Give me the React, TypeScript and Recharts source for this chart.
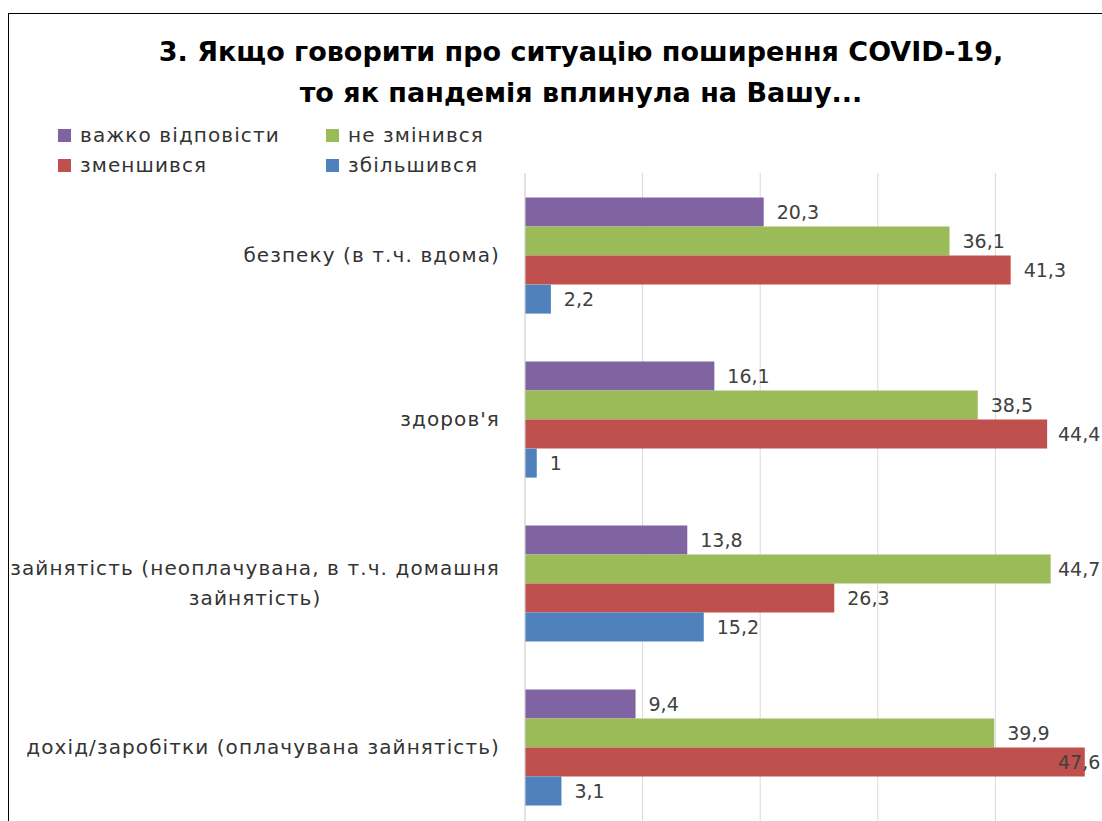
import { BarChart, Bar, XAxis, YAxis, CartesianGrid, LabelList } from 'recharts'

const categories = [
  'безпеку (в т.ч. вдома)',
  "здоров'я",
  'зайнятість (неоплачувана, в т.ч. домашня зайнятість)',
  'дохід/заробітки (оплачувана зайнятість)',
]
const seriesNames = ['важко відповісти', 'не змінився', 'зменшився', 'збільшився']
const seriesColors = ['#8064A2', '#9BBB59', '#C0504D', '#4F81BD']
const hardToSay = [20.3, 16.1, 13.8, 9.4]
const unchanged = [36.1, 38.5, 44.7, 39.9]
const decreased = [41.3, 44.4, 26.3, 47.6]
const increased = [2.2, 1, 15.2, 3.1]
const xTicks = [0, 10, 20, 30, 40, 50]
const titleLines = ['3. Якщо говорити про ситуацію поширення COVID-19,', 'то як пандемія вплинула на Вашу...']

const FONT = '"DejaVu Sans", Verdana, sans-serif'
const TEXT_FONT = 20
const TEXT_SPACING = 1.1
const LABEL_FONT = 19
const LABEL_MAX_X = 1049 // Excel pushes labels back inside the chart area

const seriesKeys = ['s0', 's1', 's2', 's3']
const seriesValues = [hardToSay, unchanged, decreased, increased]

const data = categories.map((category, i) => {
  const row: Record<string, string | number> = { category }
  seriesKeys.forEach((k, j) => (row[k] = seriesValues[j][i]))
  return row
})

let ctx: CanvasRenderingContext2D | null = null
function measure(text: string) {
  if (!ctx) ctx = document.createElement('canvas').getContext('2d')
  if (!ctx) return text.length * 12
  ctx.font = `${TEXT_FONT}px ${FONT}`
  return ctx.measureText(text).width + text.length * TEXT_SPACING
}

function wrap(text: string, max: number) {
  const lines: string[] = []
  let cur = ''
  text.split(' ').forEach((w) => {
    const next = cur ? cur + ' ' + w : w
    if (next.length > max && cur) {
      lines.push(cur)
      cur = w
    } else cur = next
  })
  if (cur) lines.push(cur)
  return lines
}

const textStyle = { fontFamily: FONT, fontSize: TEXT_FONT, letterSpacing: TEXT_SPACING, fill: '#333' }

function CategoryTick({ x, y, payload }: any) {
  const lines = wrap(payload.value, 40)
  if (lines.length === 1) {
    return (
      <text x={x} y={y} textAnchor="end" dominantBaseline="central" style={textStyle}>
        {lines[0]}
      </text>
    )
  }
  const w = Math.max(...lines.map(measure))
  const cx = x - w / 2
  return (
    <g>
      {lines.map((l, i) => (
        <text key={i} x={cx} y={y + (i - (lines.length - 1) / 2) * 30} textAnchor="middle" dominantBaseline="central" style={textStyle}>
          {l}
        </text>
      ))}
    </g>
  )
}

function ValueLabel({ x, y, width, height, value }: any) {
  const lx = Math.min(x + width + 13, LABEL_MAX_X)
  return (
    <text x={lx} y={y + height / 2} dominantBaseline="central" style={{ fontFamily: FONT, fontSize: LABEL_FONT, fill: '#404040' }}>
      {String(value).replace('.', ',')}
    </text>
  )
}

export default function App() {
  return (
    <div style={{ margin: '13px 0 0 8px', width: 1094, height: 808, overflow: 'hidden', position: 'relative', borderLeft: '1px solid #000', borderTop: '1px solid #000' }}>
      <style>{'body{margin:0;overflow:hidden}'}</style>
      <div style={{ position: 'absolute', left: 0, top: 17, width: 1144, textAlign: 'center', fontFamily: FONT, fontWeight: 'bold', fontSize: 27, lineHeight: '41px', color: '#000' }}>
        {titleLines.map((t) => (
          <div key={t}>{t}</div>
        ))}
      </div>
      <div style={{ position: 'absolute', left: 49, top: 106, display: 'grid', gridTemplateColumns: '268px 220px', fontFamily: FONT, fontSize: TEXT_FONT, letterSpacing: TEXT_SPACING, color: '#333' }}>
        {seriesNames.map((n, i) => (
          <div key={n} style={{ display: 'flex', alignItems: 'center', height: 30, whiteSpace: 'nowrap' }}>
            <span style={{ width: 13, height: 13, background: seriesColors[i], marginRight: 9, display: 'inline-block', flex: 'none' }} />
            {n}
          </div>
        ))}
      </div>
      <BarChart
        width={1114}
        height={820}
        data={data}
        layout="vertical"
        margin={{ top: 159, right: 10, bottom: 5, left: 0 }}
        barCategoryGap="15%"
        barGap={0}
      >
        <CartesianGrid horizontal={false} stroke="#d9d9d9" />
        <XAxis type="number" domain={[0, 50]} ticks={xTicks} hide />
        <YAxis
          type="category"
          dataKey="category"
          width={516}
          tickSize={0}
          tickMargin={25}
          tickLine={false}
          axisLine={{ stroke: '#d9d9d9' }}
          tick={<CategoryTick />}
          interval={0}
        />
        {seriesKeys.map((k, i) => (
          <Bar key={k} dataKey={k} name={seriesNames[i]} fill={seriesColors[i]} isAnimationActive={false}>
            <LabelList dataKey={k} content={<ValueLabel />} />
          </Bar>
        ))}
      </BarChart>
    </div>
  )
}
